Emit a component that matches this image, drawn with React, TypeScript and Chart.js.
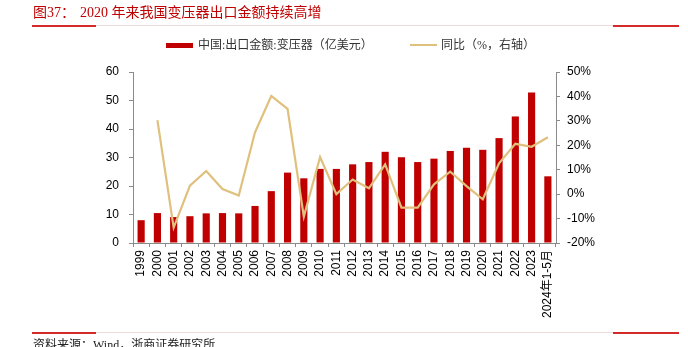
import React, { useEffect, useRef } from "react";
import { Chart, registerables } from "chart.js";

Chart.register(...registerables);

const categories = [
  "1999", "2000", "2001", "2002", "2003", "2004", "2005", "2006", "2007", "2008",
  "2009", "2010", "2011", "2012", "2013", "2014", "2015", "2016", "2017", "2018",
  "2019", "2020", "2021", "2022", "2023", "2024年1-5月",
];

const exportValue = [
  8.0, 10.5, 9.1, 9.4, 10.4, 10.5, 10.4, 13.0, 18.2, 24.7,
  22.7, 26.0, 26.0, 27.6, 28.4, 32.0, 30.1, 28.4, 29.6, 32.3,
  33.4, 32.7, 36.8, 44.4, 52.8, 23.4,
];

const yoyValue: (number | null)[] = [
  null, 30.3, -13.7, 3.5, 9.5, 2.1, -0.6, 25.3, 40.2, 34.9,
  -9.2, 15.2, 0.0, 6.0, 2.4, 12.2, -5.5, -5.5, 4.0, 9.2,
  3.3, -2.1, 12.6, 20.6, 19.4, 23.3,
];

const leftTicks = { min: 0, max: 60, step: 10 };
const rightTicks = { min: -20, max: 50, step: 10 };

const titleLabel = "图37：";
const titleText = "2020 年来我国变压器出口金额持续高增";
const barLegend = "中国:出口金额:变压器（亿美元）";
const lineLegend = "同比（%，右轴）";
const sourceText = "资料来源：Wind，浙商证券研究所";

const RED = "#c00000";
const TAN = "#dfc07c";
const AXIS = "#8a8a8a";
const SERIF = "'Liberation Serif', 'Times New Roman', 'Noto Sans CJK SC', serif";
const TICK_FONT = "Arial, 'Liberation Sans', 'Noto Sans CJK SC', sans-serif";

export default function App() {
  const ref = useRef<HTMLCanvasElement | null>(null);

  useEffect(() => {
    if (!ref.current) return;
    const chart = new Chart(ref.current, {
      type: "bar",
      data: {
        labels: categories,
        datasets: [
          {
            type: "line",
            label: lineLegend,
            data: yoyValue,
            yAxisID: "y1",
            borderColor: TAN,
            backgroundColor: TAN,
            borderWidth: 2.2,
            pointRadius: 0,
            tension: 0,
            order: 1,
          },
          {
            type: "bar",
            label: barLegend,
            data: exportValue,
            yAxisID: "y",
            backgroundColor: RED,
            barPercentage: 0.44,
            categoryPercentage: 1,
            order: 2,
          },
        ],
      },
      options: {
        responsive: false,
        animation: false,
        devicePixelRatio: 1,
        layout: { padding: { top: 72, left: 0, right: 0, bottom: 0 } },
        plugins: {
          legend: { display: false },
          tooltip: { enabled: false },
        },
        scales: {
          x: {
            offset: true,
            grid: {
              offset: true,
              drawOnChartArea: false,
              drawTicks: true,
              tickLength: 4,
              color: AXIS,
            },
            border: { display: true, color: AXIS, width: 1 },
            ticks: {
              autoSkip: false,
              maxRotation: 90,
              minRotation: 90,
              padding: 3,
              color: "#000",
              font: { family: TICK_FONT, size: 12 },
            },
            afterFit: (s: any) => {
              s.height = 104;
            },
          },
          y: {
            position: "left",
            min: leftTicks.min,
            max: leftTicks.max,
            grid: {
              drawOnChartArea: false,
              tickLength: 4,
              color: AXIS,
            },
            border: { display: true, color: AXIS, width: 1 },
            ticks: {
              stepSize: leftTicks.step,
              padding: 10,
              color: "#000",
              font: { family: TICK_FONT, size: 12 },
            },
            afterFit: (s: any) => {
              s.width = 133;
            },
          },
          y1: {
            position: "right",
            min: rightTicks.min,
            max: rightTicks.max,
            grid: {
              drawOnChartArea: false,
              tickLength: 4,
              color: AXIS,
            },
            border: { display: true, color: AXIS, width: 1 },
            ticks: {
              stepSize: rightTicks.step,
              padding: 7,
              color: "#000",
              font: { family: TICK_FONT, size: 12 },
              callback: (v: any) => `${v}%`,
            },
            afterFit: (s: any) => {
              s.width = 132;
            },
          },
        },
      },
    });
    return () => chart.destroy();
  }, []);

  const abs = (o: React.CSSProperties): React.CSSProperties => ({ position: "absolute", ...o });

  return (
    <div style={abs({ left: 0, top: 0, width: 688, height: 347, background: "#fff", overflow: "hidden" })}>
      <canvas ref={ref} width={688} height={347} style={abs({ left: 0, top: 0, width: 688, height: 347 })} />
      <div style={abs({ left: 33, top: 4, fontFamily: SERIF, fontSize: 14, color: RED, whiteSpace: "nowrap", lineHeight: "18px" })}>
        {titleLabel}
      </div>
      <div style={abs({ left: 80, top: 4, fontFamily: SERIF, fontSize: 14, color: RED, whiteSpace: "nowrap", lineHeight: "18px" })}>
        {titleText}
      </div>
      <div style={abs({ left: 32, top: 25, width: 64, height: 2, background: "#d42a2a" })} />
      <div style={abs({ left: 96, top: 25, width: 517, height: 1, background: "#f1dcdc" })} />
      <div style={abs({ left: 613, top: 25, width: 66, height: 2, background: "#d42a2a" })} />

      <div style={abs({ left: 166, top: 43, width: 27, height: 5, background: RED })} />
      <div style={abs({ left: 198, top: 37, fontFamily: SERIF, fontSize: 12, color: "#333", whiteSpace: "nowrap", lineHeight: "16px" })}>
        {barLegend}
      </div>
      <div style={abs({ left: 410, top: 44, width: 27, height: 2, background: TAN })} />
      <div style={abs({ left: 441, top: 37, fontFamily: SERIF, fontSize: 12, color: "#333", whiteSpace: "nowrap", lineHeight: "16px" })}>
        {lineLegend}
      </div>

      <div style={abs({ left: 32, top: 332, width: 64, height: 2, background: "#d42a2a" })} />
      <div style={abs({ left: 96, top: 332, width: 517, height: 1, background: "#f1dcdc" })} />
      <div style={abs({ left: 613, top: 332, width: 66, height: 2, background: "#d42a2a" })} />
      <div style={abs({ left: 33, top: 337, fontFamily: SERIF, fontSize: 12, color: "#222", whiteSpace: "nowrap", lineHeight: "16px" })}>
        {sourceText}
      </div>
    </div>
  );
}
